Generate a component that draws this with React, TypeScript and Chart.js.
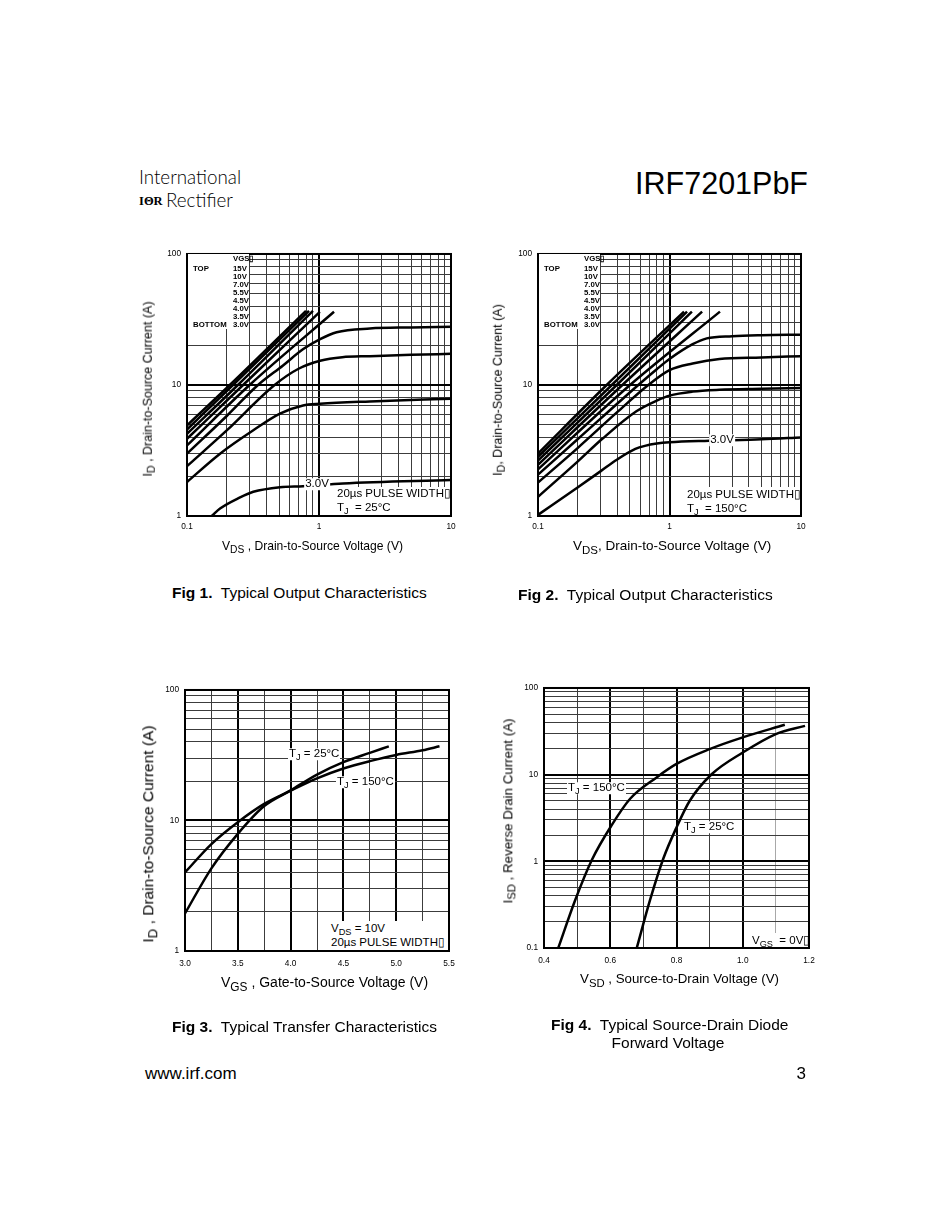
import React, { useEffect, useRef } from 'react';
import { Chart, registerables } from 'chart.js';
Chart.register(...registerables);

const FONT = '"Liberation Sans", Arial, Helvetica, sans-serif';

// ---------- Fig 1 : Typical Output Characteristics, TJ = 25°C ----------
const fig1XLabels = ['0.1', '1', '10'];
const fig1YLabels = ['1', '10', '100'];
const fig1Curve1Vds = [0.1, 0.211, 0.797];
const fig1Curve1Id = [4.91, 10, 36.8];
const fig1Curve2Vds = [0.1, 0.223, 0.84];
const fig1Curve2Id = [4.57, 10, 36.8];
const fig1Curve3Vds = [0.1, 0.243, 0.9];
const fig1Curve3Id = [4.24, 10, 36.8];
const fig1Curve4Vds = [0.1, 0.266, 1.015];
const fig1Curve4Id = [3.88, 10, 36.2];
const fig1Curve5Vds = [0.1, 0.298, 1.3];
const fig1Curve5Id = [3.46, 10, 36.2];
const fig1Curve6Vds = [0.1, 0.2, 0.345, 0.534, 0.76, 1.02, 1.36, 2.43, 5, 10];
const fig1Curve6Id = [2.99, 5.8, 10, 14.1, 18.8, 22.4, 25.3, 27.0, 27.5, 27.8];
const fig1Curve7Vds = [0.1, 0.2, 0.461, 0.7, 1.02, 1.5, 2.43, 5, 10];
const fig1Curve7Id = [2.4, 4.5, 10, 13.3, 15.3, 16.3, 16.6, 17.0, 17.3];
const fig1Curve8Vds = [0.1, 0.178, 0.318, 0.506, 0.757, 1.02, 2.43, 10];
const fig1Curve8Id = [1.82, 2.99, 4.51, 6.04, 6.98, 7.19, 7.49, 7.85];
const fig1Curve9Vds = [0.154, 0.178, 0.25, 0.318, 0.506, 0.757, 1.52, 10];
const fig1Curve9Id = [1.0, 1.14, 1.38, 1.53, 1.66, 1.69, 1.77, 1.88];

// ---------- Fig 2 : Typical Output Characteristics, TJ = 150°C ----------
const fig2XLabels = ['0.1', '1', '10'];
const fig2YLabels = ['1', '10', '100'];
const fig2Curve1Vds = [0.1, 0.333, 1.29];
const fig2Curve1Id = [3.0, 10, 36.3];
const fig2Curve2Vds = [0.1, 0.364, 1.36];
const fig2Curve2Id = [2.83, 10, 36.3];
const fig2Curve3Vds = [0.1, 0.397, 1.48];
const fig2Curve3Id = [2.65, 10, 36.3];
const fig2Curve4Vds = [0.1, 0.438, 1.77];
const fig2Curve4Id = [2.46, 10, 36.3];
const fig2Curve5Vds = [0.1, 0.501, 2.42];
const fig2Curve5Id = [2.27, 10, 36.3];
const fig2Curve6Vds = [0.1, 0.2, 0.579, 0.8, 1.0, 1.5, 1.92, 3, 5, 10];
const fig2Curve6Id = [2.07, 3.85, 10, 13.2, 15.8, 20.5, 22.7, 23.6, 24.0, 24.2];
const fig2Curve7Vds = [0.1, 0.2, 0.4, 0.69, 1.0, 1.5, 2.4, 5, 10];
const fig2Curve7Id = [1.8, 3.3, 6.2, 10, 13.0, 14.6, 15.8, 16.2, 16.6];
const fig2Curve8Vds = [0.1, 0.2, 0.31, 0.56, 0.8, 1.0, 1.5, 2.4, 5, 10];
const fig2Curve8Id = [1.4, 2.6, 3.9, 6.3, 7.6, 8.3, 8.9, 9.18, 9.35, 9.5];
const fig2Curve9Vds = [0.1, 0.2, 0.3, 0.4, 0.55, 0.65, 0.8, 1.0, 2, 5, 10];
const fig2Curve9Id = [1.02, 1.65, 2.2, 2.7, 3.25, 3.43, 3.57, 3.65, 3.75, 3.85, 3.98];

// ---------- Fig 3 : Typical Transfer Characteristics ----------
const fig3XLabels = ['3.0', '3.5', '4.0', '4.5', '5.0', '5.5'];
const fig3YLabels = ['1', '10', '100'];
const fig3Tj25Vgs = [3.0, 3.25, 3.5, 3.75, 4.0, 4.25, 4.5, 4.75, 4.93];
const fig3Tj25Id = [1.94, 4.3, 7.9, 12.9, 17.0, 22.5, 28.0, 33.0, 37.0];
const fig3Tj150Vgs = [3.0, 3.25, 3.5, 3.75, 4.0, 4.25, 4.5, 4.75, 5.0, 5.25, 5.41];
const fig3Tj150Id = [4.0, 6.6, 9.7, 13.4, 16.9, 21.0, 25.0, 28.5, 31.8, 34.5, 37.0];

// ---------- Fig 4 : Typical Source-Drain Diode Forward Voltage ----------
const fig4XLabels = ['0.4', '0.6', '0.8', '1.0', '1.2'];
const fig4YLabels = ['0.1', '1', '10', '100'];
const fig4Tj150Vsd = [0.443, 0.494, 0.544, 0.604, 0.66, 0.74, 0.8, 0.9, 1.0, 1.127];
const fig4Tj150Isd = [0.1, 0.356, 1.03, 2.6, 5.27, 9.3, 13.3, 19.7, 26.9, 37.6];
const fig4Tj25Vsd = [0.68, 0.72, 0.76, 0.8, 0.84, 0.906, 1.0, 1.1, 1.188];
const fig4Tj25Isd = [0.1, 0.356, 1.07, 2.46, 5.0, 10.1, 18.0, 29.4, 36.5];

const legendLabels = ['15V', '10V', '7.0V', '5.5V', '4.5V', '4.0V', '3.5V', '3.0V'];

// ---------- helpers ----------
const zip = (xs: number[], ys: number[]) => xs.map((x, i) => ({ x, y: ys[i] }));

function logTickValues(labels: string[]) {
  const d = labels.map(Number);
  const out: number[] = [];
  for (let i = 0; i < d.length - 1; i++) {
    for (let m = 1; m <= 9; m++) out.push(parseFloat((d[i] * m).toPrecision(6)));
  }
  out.push(d[d.length - 1]);
  return out;
}
function linTickValues(labels: string[]) {
  const d = labels.map(Number);
  const out: number[] = [];
  for (let i = 0; i < d.length - 1; i++) {
    out.push(d[i], parseFloat(((d[i] + d[i + 1]) / 2).toPrecision(6)));
  }
  out.push(d[d.length - 1]);
  return out;
}

const near = (a: number, b: number) => Math.abs(a - b) <= 1e-6 * Math.max(Math.abs(a), Math.abs(b), 1e-9);

function axis(kind: 'logarithmic' | 'linear', labels: string[], dir: 'x' | 'y', fixed: number, pad: number, gray: number[] = []) {
  const vals = kind === 'logarithmic' ? logTickValues(labels) : linTickValues(labels);
  const nums = labels.map(Number);
  const labelOf = (v: number) => {
    const i = nums.findIndex((n) => near(n, v));
    return i >= 0 ? labels[i] : '';
  };
  return {
    type: kind,
    min: nums[0],
    max: nums[nums.length - 1],
    afterBuildTicks: (scale: any) => {
      scale.ticks = vals.map((v) => ({ value: v }));
    },
    afterFit: (scale: any) => {
      if (dir === 'x') scale.height = fixed;
      else scale.width = fixed;
    },
    ticks: {
      autoSkip: false,
      maxRotation: 0,
      minRotation: 0,
      padding: pad,
      color: '#000',
      font: { family: FONT, size: 8.3 },
      callback: (v: any) => labelOf(Number(v)),
    },
    grid: {
      drawTicks: false,
      color: (c: any) => {
        const v = c.tick ? c.tick.value : 0;
        if (gray.some((g) => near(g, v))) return '#a8a8a8';
        return labelOf(v) ? '#000' : '#3c3c3c';
      },
      lineWidth: (c: any) => {
        const v = c.tick ? c.tick.value : 0;
        return labelOf(v) ? 2 : 1;
      },
    },
    border: { display: false },
  };
}

const framePlugin = {
  id: 'frame',
  afterDraw(chart: any) {
    const { ctx, chartArea: a } = chart;
    ctx.save();
    ctx.strokeStyle = '#000';
    ctx.lineWidth = 2;
    ctx.strokeRect(a.left, a.top, a.right - a.left, a.bottom - a.top);
    ctx.restore();
  },
};

const PADL = 40, PADT = 10, PADR = 20, PADB = 28;

type Rect = { L: number; T: number; R: number; B: number };

function PlotCanvas({ rect, series, xKind, xLabels, yLabels, xPad, xGray }: {
  rect: Rect; series: { x: number; y: number }[][]; xKind: 'logarithmic' | 'linear';
  xLabels: string[]; yLabels: string[]; xPad: number; xGray?: number[];
}) {
  const ref = useRef<HTMLCanvasElement>(null);
  const w = rect.R - rect.L + PADL + PADR;
  const h = rect.B - rect.T + PADT + PADB;
  useEffect(() => {
    const chart = new Chart(ref.current as HTMLCanvasElement, {
      type: 'line',
      data: {
        datasets: series.map((d) => ({
          data: d,
          borderColor: '#000',
          borderWidth: 2.5,
          pointRadius: 0,
          fill: false,
          cubicInterpolationMode: 'monotone',
        })),
      },
      options: {
        responsive: false,
        animation: false,
        events: [],
        layout: { padding: { left: 0, top: PADT, right: PADR, bottom: 0 } },
        plugins: { legend: { display: false }, tooltip: { enabled: false } },
        scales: {
          x: axis(xKind, xLabels, 'x', PADB, xPad, xGray || []),
          y: axis('logarithmic', yLabels, 'y', PADL, 6),
        },
      } as any,
      plugins: [framePlugin],
    } as any);
    return () => chart.destroy();
  }, []);
  return (
    <canvas
      ref={ref}
      width={w}
      height={h}
      style={{ position: 'absolute', left: rect.L - PADL, top: rect.T - PADT, width: w, height: h }}
    />
  );
}

function Txt({ x, y, size = 11, bold = false, anchor = 'left', bg = false, family = FONT, weight, children }: any) {
  const tr = anchor === 'left' ? 'translateY(-50%)' : anchor === 'center' ? 'translate(-50%,-50%)' : 'translate(-100%,-50%)';
  return (
    <div
      style={{
        position: 'absolute', left: x, top: y, transform: tr, whiteSpace: 'nowrap',
        fontFamily: family, fontSize: size, lineHeight: 1, fontWeight: weight || (bold ? 'bold' : 'normal'),
        background: bg ? '#fff' : 'transparent', padding: bg ? '0 1px' : 0, color: '#000',
      }}
    >
      {children}
    </div>
  );
}

function VTxt({ x, y, size = 12.5, children }: any) {
  return (
    <div
      style={{
        position: 'absolute', left: x, top: y, transform: 'translate(-50%,-50%) rotate(-90deg)',
        whiteSpace: 'nowrap', fontFamily: FONT, fontSize: size, lineHeight: 1, color: '#000',
      }}
    >
      {children}
    </div>
  );
}

const Sub = ({ children, s = 0.85 }: any) => (
  <span style={{ fontSize: s + 'em', verticalAlign: '-0.3em', lineHeight: 0 }}>{children}</span>
);

function WBox({ x, y, w, h }: any) {
  return <div style={{ position: 'absolute', left: x, top: y, width: w, height: h, background: '#fff' }} />;
}

function Legend({ L, T }: { L: number; T: number }) {
  const vx = L + 46;
  return (
    <>
      <WBox x={L + 1} y={T + 1} w={61} h={75} />
      <Txt x={vx} y={T + 6} size={7.8} bold>VGS{'\u25AF'}</Txt>
      <Txt x={L + 6} y={T + 16} size={7.8} bold>TOP</Txt>
      <Txt x={L + 6} y={T + 72} size={7.8} bold>BOTTOM</Txt>
      {legendLabels.map((s, i) => (
        <Txt key={s} x={vx} y={T + 16 + i * 8} size={7.8} bold>{s}</Txt>
      ))}
    </>
  );
}

const R1: Rect = { L: 187, T: 253, R: 451, B: 516 };
const R2: Rect = { L: 538, T: 253, R: 801, B: 516 };
const R3: Rect = { L: 185, T: 689, R: 449, B: 951 };
const R4: Rect = { L: 544, T: 687, R: 809, B: 948 };

export default function App() {
  const fig1 = [
    zip(fig1Curve1Vds, fig1Curve1Id), zip(fig1Curve2Vds, fig1Curve2Id), zip(fig1Curve3Vds, fig1Curve3Id),
    zip(fig1Curve4Vds, fig1Curve4Id), zip(fig1Curve5Vds, fig1Curve5Id), zip(fig1Curve6Vds, fig1Curve6Id),
    zip(fig1Curve7Vds, fig1Curve7Id), zip(fig1Curve8Vds, fig1Curve8Id), zip(fig1Curve9Vds, fig1Curve9Id),
  ];
  const fig2 = [
    zip(fig2Curve1Vds, fig2Curve1Id), zip(fig2Curve2Vds, fig2Curve2Id), zip(fig2Curve3Vds, fig2Curve3Id),
    zip(fig2Curve4Vds, fig2Curve4Id), zip(fig2Curve5Vds, fig2Curve5Id), zip(fig2Curve6Vds, fig2Curve6Id),
    zip(fig2Curve7Vds, fig2Curve7Id), zip(fig2Curve8Vds, fig2Curve8Id), zip(fig2Curve9Vds, fig2Curve9Id),
  ];
  const fig3 = [zip(fig3Tj25Vgs, fig3Tj25Id), zip(fig3Tj150Vgs, fig3Tj150Id)];
  const fig4 = [zip(fig4Tj150Vsd, fig4Tj150Isd), zip(fig4Tj25Vsd, fig4Tj25Isd)];

  return (
    <div style={{ position: 'absolute', left: 0, top: 0, width: 950, height: 1230, background: '#fff', overflow: 'hidden', fontFamily: FONT }}>
      {/* header */}
      <Txt x={139} y={177} size={18.8} family='Lato, "Noto Sans", sans-serif' weight={300}>International</Txt>
      <Txt x={139} y={201} size={12.5} family='"Liberation Serif", serif' bold>I{'\u0398'}R</Txt>
      <Txt x={166} y={200} size={18.8} family='Lato, "Noto Sans", sans-serif' weight={300}>Rectifier</Txt>
      <Txt x={808} y={183} size={30.5} anchor="right">IRF7201PbF</Txt>

      {/* Fig 1 */}
      <PlotCanvas rect={R1} series={fig1} xKind="logarithmic" xLabels={fig1XLabels} yLabels={fig1YLabels} xPad={6} />
      <Legend L={R1.L} T={R1.T} />
      <Txt x={317} y={484} size={11.5} anchor="center" bg>3.0V</Txt>
      <WBox x={333} y={487} w={117} h={28} />
      <Txt x={337} y={494} size={11.5}>20µs PULSE WIDTH{'\u25AF'}</Txt>
      <Txt x={337} y={508} size={11.5}>T<Sub s={0.8}>J</Sub>&nbsp; = 25°C</Txt>
      <VTxt x={148} y={389} size={12.5}>I<Sub>D</Sub> , Drain-to-Source Current (A)</VTxt>
      <Txt x={222} y={546} size={12.1}>V<Sub>DS</Sub> , Drain-to-Source Voltage (V)</Txt>
      <Txt x={172} y={593} size={15.5}><b>Fig 1.</b>&nbsp; Typical Output Characteristics</Txt>

      {/* Fig 2 */}
      <PlotCanvas rect={R2} series={fig2} xKind="logarithmic" xLabels={fig2XLabels} yLabels={fig2YLabels} xPad={6} />
      <Legend L={R2.L} T={R2.T} />
      <Txt x={722} y={440} size={11.5} anchor="center" bg>3.0V</Txt>
      <WBox x={684} y={487} w={116} h={28} />
      <Txt x={687} y={495} size={11.5}>20µs PULSE WIDTH{'\u25AF'}</Txt>
      <Txt x={687} y={509} size={11.5}>T<Sub s={0.8}>J</Sub>&nbsp; = 150°C</Txt>
      <VTxt x={498} y={390} size={12.5}>I<Sub>D</Sub>, Drain-to-Source Current (A)</VTxt>
      <Txt x={573} y={546} size={13.5}>V<Sub>DS</Sub>, Drain-to-Source Voltage (V)</Txt>
      <Txt x={518} y={595} size={15.5}><b>Fig 2.</b>&nbsp; Typical Output Characteristics</Txt>

      {/* Fig 3 */}
      <PlotCanvas rect={R3} series={fig3} xKind="linear" xLabels={fig3XLabels} yLabels={fig3YLabels} xPad={8} />
      <Txt x={288} y={754} size={11.5} bg>T<Sub s={0.8}>J</Sub> = 25°C</Txt>
      <Txt x={336} y={782} size={11.5} bg>T<Sub s={0.8}>J</Sub> = 150°C</Txt>
      <WBox x={329} y={921} w={119} h={29} />
      <Txt x={331} y={929} size={11.5}>V<Sub s={0.8}>DS</Sub> = 10V</Txt>
      <Txt x={331} y={943} size={11.5}>20µs PULSE WIDTH{'\u25AF'}</Txt>
      <VTxt x={148} y={834} size={15.5}>I<Sub>D</Sub> , Drain-to-Source Current (A)</VTxt>
      <Txt x={221} y={982} size={14}>V<Sub>GS</Sub> , Gate-to-Source Voltage (V)</Txt>
      <Txt x={172} y={1027} size={15.5}><b>Fig 3.</b>&nbsp; Typical Transfer Characteristics</Txt>

      {/* Fig 4 */}
      <PlotCanvas rect={R4} series={fig4} xKind="linear" xLabels={fig4XLabels} yLabels={fig4YLabels} xPad={8} xGray={[1.1]} />
      <Txt x={567} y={788} size={11.5} bg>T<Sub s={0.8}>J</Sub> = 150°C</Txt>
      <Txt x={683} y={827} size={11.5} bg>T<Sub s={0.8}>J</Sub> = 25°C</Txt>
      <WBox x={748} y={933} w={59} h={14} />
      <Txt x={752} y={941} size={11.5}>V<Sub s={0.8}>GS</Sub>&nbsp; = 0V{'\u25AF'}</Txt>
      <VTxt x={508} y={811} size={13.3}>I<Sub>SD</Sub> , Reverse Drain Current (A)</VTxt>
      <Txt x={580} y={979} size={13.3}>V<Sub>SD</Sub> , Source-to-Drain Voltage (V)</Txt>
      <Txt x={551} y={1025} size={15.5}><b>Fig 4.</b>&nbsp; Typical Source-Drain Diode</Txt>
      <Txt x={668} y={1043} size={15.5} anchor="center">Forward Voltage</Txt>

      {/* footer */}
      <Txt x={145} y={1073} size={17}>www.irf.com</Txt>
      <Txt x={806} y={1073} size={17} anchor="right">3</Txt>
    </div>
  );
}
